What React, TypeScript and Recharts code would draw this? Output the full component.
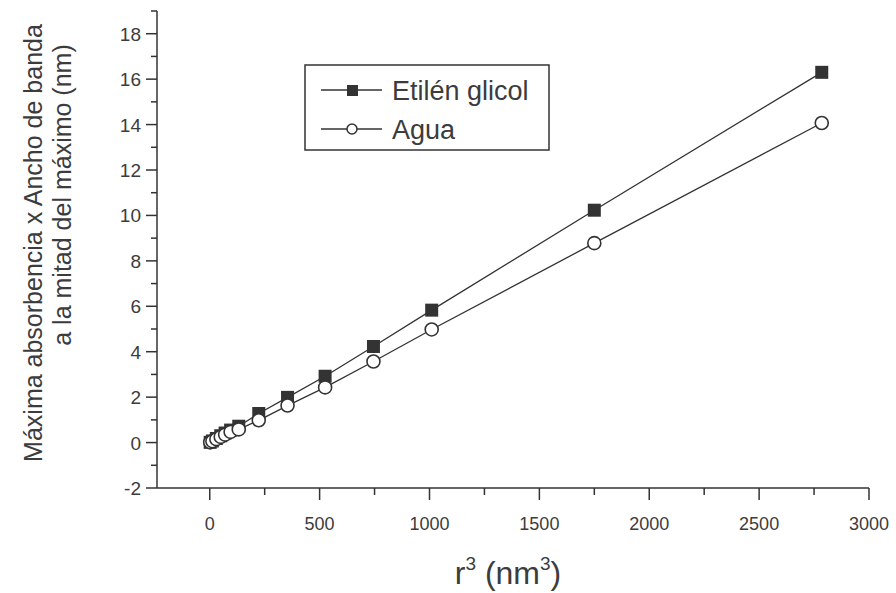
import React from 'react';
import { ScatterChart, Scatter, XAxis, YAxis, Legend } from 'recharts';

const rCubed = [2, 12, 30, 50, 70, 95, 132, 223, 354, 525, 745, 1010, 1750, 2785];
const etilenGlicol = [0.01, 0.07, 0.18, 0.3, 0.42, 0.55, 0.72, 1.28, 1.99, 2.92, 4.23, 5.83, 10.23, 16.3];
const agua = [0.01, 0.06, 0.15, 0.25, 0.35, 0.47, 0.58, 0.98, 1.63, 2.43, 3.57, 4.98, 8.78, 14.07];

const xTicks = [0, 250, 500, 750, 1000, 1250, 1500, 1750, 2000, 2250, 2500, 2750, 3000];
const yTicks = [-2, -1, 0, 1, 2, 3, 4, 5, 6, 7, 8, 9, 10, 11, 12, 13, 14, 15, 16, 17, 18, 19];

const seriesNames = ['Etilén glicol', 'Agua'];

const etilenData = rCubed.map((x, i) => ({ x, y: etilenGlicol[i] }));
const aguaData = rCubed.map((x, i) => ({ x, y: agua[i] }));

const INK = '#333333';
const TXT = '#3c3c3c';
const FONT = '"Liberation Sans", Arial, sans-serif';

const XTick = (props: any) => {
  const { x, y, payload } = props;
  const major = payload.value % 500 === 0;
  return (
    <g>
      <line x1={x} x2={x} y1={y} y2={y + (major ? 12 : 7)} stroke={INK} strokeWidth={1.5} />
      {major && (
        <text x={x} y={y + 42} textAnchor="middle" fill={TXT} fontSize={18} fontFamily={FONT}>
          {payload.value}
        </text>
      )}
    </g>
  );
};

const YTick = (props: any) => {
  const { x, y, payload } = props;
  const major = payload.value % 2 === 0;
  return (
    <g>
      <line x1={x - (major ? 11 : 6)} x2={x} y1={y} y2={y} stroke={INK} strokeWidth={1.5} />
      {major && (
        <text x={x - 16} y={y + 7} textAnchor="end" fill={TXT} fontSize={19} fontFamily={FONT}>
          {payload.value}
        </text>
      )}
    </g>
  );
};

const Square = (props: any) => {
  const { cx, cy } = props;
  if (cx == null || cy == null) return null;
  return <rect x={cx - 6.5} y={cy - 6.5} width={13} height={13} fill={INK} />;
};

const Circle = (props: any) => {
  const { cx, cy } = props;
  if (cx == null || cy == null) return null;
  return <circle cx={cx} cy={cy} r={6.5} fill="#fff" stroke={INK} strokeWidth={1.6} />;
};

const LegendBox = () => (
  <svg width={247} height={88} style={{ display: 'block' }}>
    <rect x={1} y={1} width={244} height={85} fill="#fff" stroke={INK} strokeWidth={1.5} />
    <line x1={17} x2={78} y1={26} y2={26} stroke={INK} strokeWidth={1.3} />
    <rect x={43} y={21} width={11} height={11} fill={INK} />
    <text x={88} y={36} fill={TXT} fontSize={27} fontFamily={FONT}>{seriesNames[0]}</text>
    <line x1={17} x2={78} y1={65} y2={65} stroke={INK} strokeWidth={1.3} />
    <circle cx={48} cy={65} r={5} fill="#fff" stroke={INK} strokeWidth={1.5} />
    <text x={88} y={75} fill={TXT} fontSize={27} fontFamily={FONT}>{seriesNames[1]}</text>
  </svg>
);

const XTitle = () => (
  <text x={508} y={584} textAnchor="middle" fill={TXT} fontSize={32} fontFamily={FONT}>
    r<tspan dy={-14} fontSize={19}>3</tspan>
    <tspan dy={14}> (nm</tspan>
    <tspan dy={-14} fontSize={19}>3</tspan>
    <tspan dy={14}>)</tspan>
  </text>
);

const YTitle = () => (
  <g fill={TXT} fontSize={25} fontFamily={FONT}>
    <text transform="translate(42,243) rotate(-90)" textAnchor="middle">
      Máxima absorbencia x Ancho de banda
    </text>
    <text transform="translate(71,195) rotate(-90)" textAnchor="middle">
      a la mitad del máximo (nm)
    </text>
  </g>
);

export default function App() {
  return (
    <div style={{ position: 'absolute', left: 0, top: 0, width: 896, height: 593, background: '#fff' }}>
      <ScatterChart
        width={896}
        height={593}
        margin={{ top: 11, right: 27, left: 97, bottom: 45 }}
        style={{ fontFamily: FONT }}
      >
        <XAxis
          type="number"
          dataKey="x"
          domain={[-240, 3000]}
          ticks={xTicks}
          interval={0}
          allowDataOverflow
          height={60}
          tickSize={0}
          tickMargin={0}
          tickLine={false}
          axisLine={{ stroke: INK, strokeWidth: 1.5 }}
          tick={<XTick />}
          label={{ content: () => <XTitle /> }}
        />
        <YAxis
          type="number"
          dataKey="y"
          domain={[-2, 19]}
          ticks={yTicks}
          interval={0}
          allowDataOverflow
          width={60}
          tickSize={0}
          tickMargin={0}
          tickLine={false}
          axisLine={{ stroke: INK, strokeWidth: 1.5 }}
          tick={<YTick />}
          label={{ content: () => <YTitle /> }}
        />
        <Legend
          layout="horizontal"
          verticalAlign="middle"
          align="center"
          wrapperStyle={{ position: 'absolute', left: 304, top: 64, width: 247, height: 88 }}
          content={() => <LegendBox />}
        />
        <Scatter
          name={seriesNames[0]}
          data={etilenData}
          line={{ stroke: INK, strokeWidth: 1.3 }}
          lineType="joint"
          shape={<Square />}
          isAnimationActive={false}
        />
        <Scatter
          name={seriesNames[1]}
          data={aguaData}
          line={{ stroke: INK, strokeWidth: 1.3 }}
          lineType="joint"
          shape={<Circle />}
          isAnimationActive={false}
        />
      </ScatterChart>
    </div>
  );
}
